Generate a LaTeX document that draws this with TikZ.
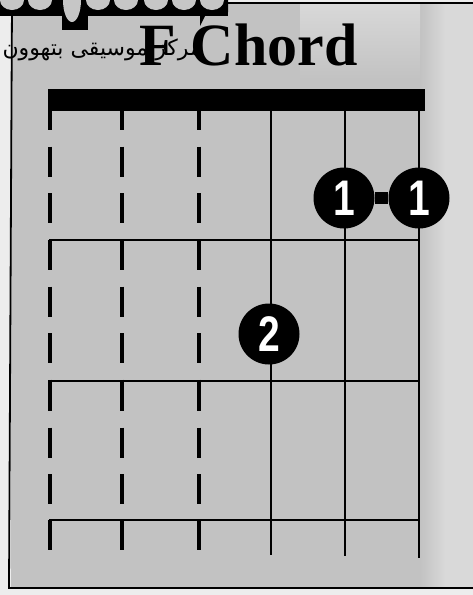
\documentclass[tikz,border=0pt]{standalone}
\usepackage{fontspec}
\usepackage{graphicx}
\setmainfont{Liberation Serif}
\newfontfamily\digitfont{Liberation Sans}
\newfontfamily\arabicfont[Script=Arabic]{DejaVu Sans}
\TeXXeTstate=1
\definecolor{paper}{gray}{0.93}
\definecolor{screen}{gray}{0.76}
\definecolor{screenlight}{gray}{0.85}
\tikzset{
  gridline/.style={line width=2.8pt, black},
  dashstring/.style={line width=3.4pt, black, dash pattern=on 30pt off 16.5pt},
  fretline/.style={line width=2.8pt, black, line cap=rect},
  fingerdot/.style={circle, fill=black, minimum size=61pt, inner sep=0pt,
    text=white, font=\digitfont\bfseries\fontsize{50}{50}\selectfont},
  barre/.style={line width=12pt, black},
}
\begin{document}
\begin{tikzpicture}[x=1pt,y=-1pt]
\useasboundingbox (0,0) rectangle (473,595);
\fill[paper] (0,0) rectangle (473,595);
% frame with screened fill
\fill[screen] (11,3) rectangle (473,588);
\shade[left color=screen, right color=screenlight] (420,3) rectangle (445,588);
\fill[screenlight] (445,3) rectangle (473,588);
\shade[bottom color=screen, top color=screenlight] (300,3) rectangle (420,80);
\draw[line width=1.8pt] (480,3) -- (12,3) -- (9,588) -- (480,588);
% logo bubbles at the top left
\fill[black] (0,0) rectangle (228,16);
\fill[black] (228,0) -- (228,12) arc (0:-90:14) -- (200,26) -- (200,16) -- cycle;
\fill[black] (62,10) rectangle (88,30);
\foreach \bx in {12,40,98,126,156,184,212}
  \fill[gray!45] (\bx,0) ellipse (12pt and 10pt);
\fill[gray!45] (72,0) ellipse (9pt and 22pt);
% watermark text
\node[anchor=east, inner sep=0pt, font=\arabicfont\fontsize{22}{22}\selectfont]
  (wm) at (202,50) {\beginR مرکز موسیقی بتهوون\endR};
% title
\node[anchor=base west, inner sep=0pt, font=\bfseries\fontsize{60}{60}\selectfont]
  (title) at (139,65) {F Chord};
% dashed (unplayed) strings
\foreach \sx in {50,122,199}{
  \foreach \ya/\yb in {100/240,240/381,381/520,520/553}
    \draw[dashstring] (\sx,\ya) -- (\sx,\yb);
}
% solid strings
\foreach \sx/\yb in {271/555,345/556,419/558}
  \draw[gridline] (\sx,105) -- (\sx,\yb);
% nut
\fill[black] (48,89) rectangle (425,111);
% frets
\foreach \fy in {240,381,520}
  \draw[fretline] (50,\fy) -- (419,\fy);
% finger dots
\node[fingerdot] (d1a) at (344,198) {\scalebox{0.78}[1]{1}};
\node[fingerdot] (d1b) at (419,198) {\scalebox{0.78}[1]{1}};
\node[fingerdot] (d2) at (269,334) {\scalebox{0.78}[1]{2}};
\draw[barre] (d1a) -- (d1b);
\end{tikzpicture}
\end{document}
